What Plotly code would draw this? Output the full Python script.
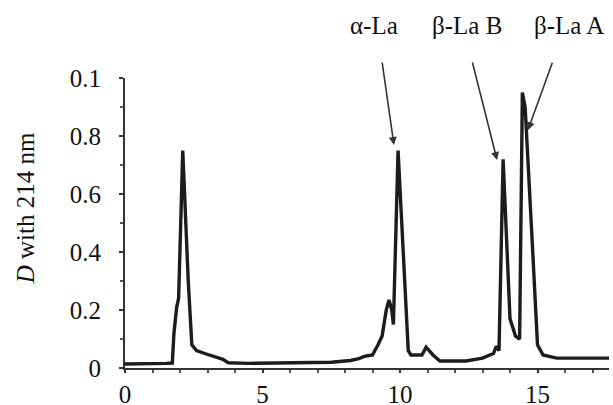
import plotly.graph_objects as go

# Retention time (min) and absorbance D at 214 nm
retention_time = [0.0, 0.5, 1.0, 1.5, 1.72, 1.78, 1.88, 1.95, 2.1, 2.3, 2.43, 2.6, 2.9, 3.2, 3.56, 3.75,
                  4.5, 5.5, 6.5, 7.5, 8.2, 8.5, 8.7, 9.0, 9.2, 9.35, 9.5, 9.6, 9.7, 9.76, 9.93,
                  10.3, 10.4, 10.8, 10.95, 11.05, 11.2, 11.45, 12.4, 13.0, 13.4, 13.5, 13.6, 13.75,
                  14.0, 14.2, 14.35, 14.45, 14.55, 14.8, 15.0, 15.2, 15.7, 16.5, 17.6]
absorbance = [0.014, 0.014, 0.015, 0.016, 0.017, 0.12, 0.21, 0.24, 0.75, 0.3, 0.08, 0.06, 0.05, 0.04, 0.03, 0.018,
              0.016, 0.017, 0.018, 0.02, 0.026, 0.032, 0.04, 0.045, 0.08, 0.11, 0.2, 0.235, 0.2, 0.15, 0.75,
              0.06, 0.045, 0.045, 0.072, 0.06, 0.045, 0.024, 0.024, 0.034, 0.05, 0.075, 0.06, 0.72,
              0.17, 0.11, 0.1, 0.95, 0.9, 0.45, 0.08, 0.045, 0.034, 0.034, 0.034]

x_tick_vals = [0, 5, 10, 15]
y_tick_vals = [0, 0.2, 0.4, 0.6, 0.8, 1.0]
y_tick_text = ["0", "0.2", "0.4", "0.6", "0.8", "0.1"]

peak_labels = ["α-La", "β-La B", "β-La A"]
label_x = [9.05, 12.44, 16.15]
arrow_tip_x = [9.78, 13.53, 14.65]
arrow_tip_y = [0.769, 0.717, 0.82]
arrow_ax = [-12, -25, 25]
arrow_ay = [-84, -99, -69]

FONT = "Liberation Serif"
INK = "#1c1c1c"
FS = 25

fig = go.Figure()
fig.add_trace(go.Scatter(x=retention_time, y=absorbance, mode="lines",
                         line=dict(color=INK, width=3.4), showlegend=False))

annotations = []
for lab, lx in zip(peak_labels, label_x):
    annotations.append(dict(text=lab, x=lx, y=1.18, xref="x", yref="paper", showarrow=False,
                            font=dict(family=FONT, size=FS, color="#111"),
                            xanchor="center", yanchor="middle"))
for tx, ty, ax, ay in zip(arrow_tip_x, arrow_tip_y, arrow_ax, arrow_ay):
    annotations.append(dict(text="", x=tx, y=ty, xref="x", yref="y", showarrow=True,
                            ax=ax, ay=ay, axref="pixel", ayref="pixel",
                            arrowhead=2, arrowsize=1.0, arrowwidth=1.6, arrowcolor="#333"))
annotations.append(dict(text="<i>D</i> with 214 nm", x=-0.205, y=0.55, xref="paper", yref="paper",
                        textangle=-90, showarrow=False, xanchor="center", yanchor="middle",
                        font=dict(family=FONT, size=FS, color="#111")))

fig.update_layout(
    width=613, height=405,
    margin=dict(l=125, r=4, t=78, b=37, autoexpand=False),
    paper_bgcolor="white", plot_bgcolor="white",
    font=dict(family=FONT, size=FS, color="#111"),
    annotations=annotations,
    xaxis=dict(range=[0, 17.6], tickmode="array", tickvals=x_tick_vals, automargin=False,
               ticks="outside", ticklen=3, tickwidth=1.5, tickcolor="#333",
               showline=True, linecolor="#333", linewidth=2,
               showgrid=False, zeroline=False,
               minor=dict(dtick=1, tick0=0, ticks="outside", ticklen=3, tickcolor="#555", showgrid=False),
               tickfont=dict(family=FONT, size=FS, color="#111")),
    yaxis=dict(range=[0, 1.0], tickmode="array", tickvals=y_tick_vals, ticktext=y_tick_text, automargin=False,
               ticks="outside", ticklen=4, tickwidth=1.5, tickcolor="#333",
               showline=True, linecolor="#333", linewidth=2,
               showgrid=False, zeroline=False,
               minor=dict(dtick=0.1, tick0=0, ticks="outside", ticklen=3, tickcolor="#555", showgrid=False),
               ticklabelstandoff=13,
               tickfont=dict(family=FONT, size=FS, color="#111")),
)

fig.write_html("out.html", config={"displayModeBar": False},
               post_script="document.body.style.margin='0';")
